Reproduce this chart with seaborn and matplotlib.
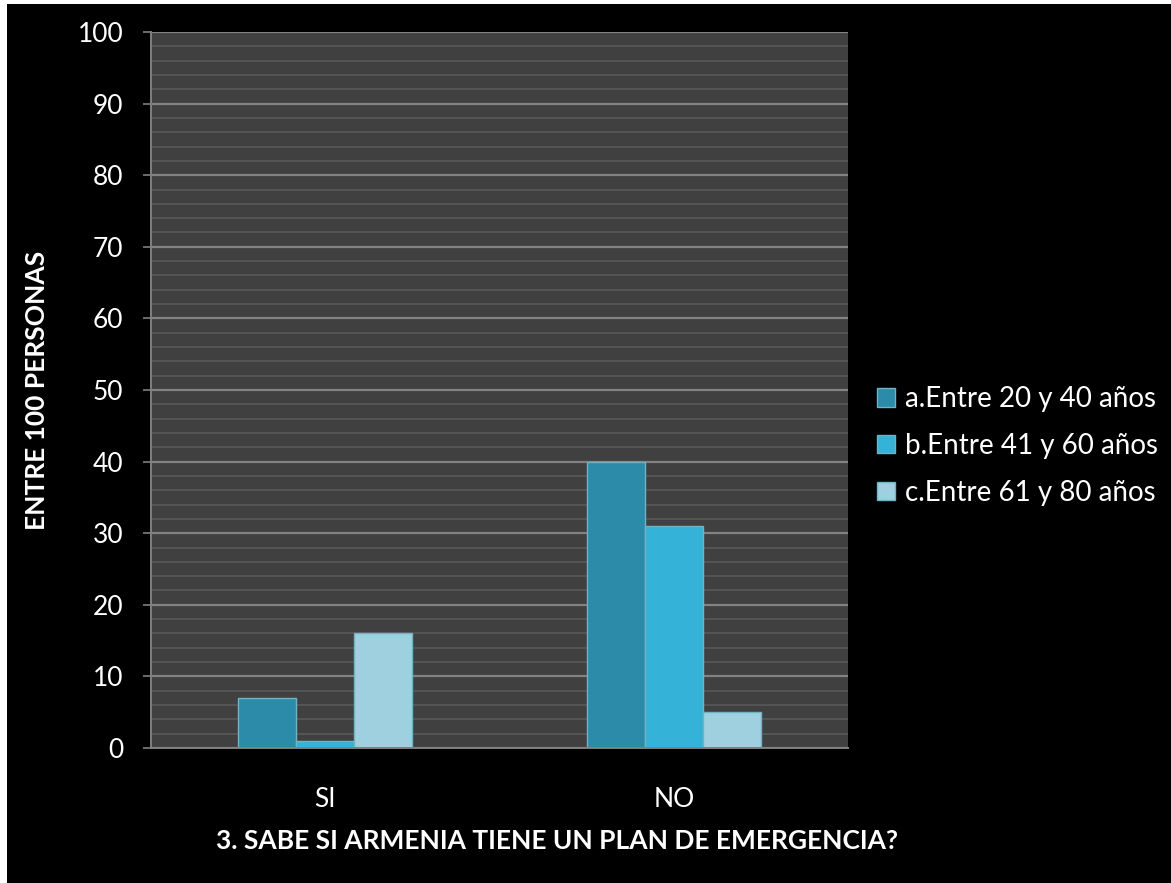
import pandas as pd
import numpy as np
import matplotlib.pyplot as plt
import matplotlib.patches as mpatches
from matplotlib.ticker import MultipleLocator
import seaborn as sns

# data
respuestas = ['SI', 'NO']
grupos = ['a.Entre 20 y 40 años', 'b.Entre 41 y 60 años', 'c.Entre 61 y 80 años']
valores_a = [7, 40]
valores_b = [1, 31]
valores_c = [16, 5]
colores = ['#2b8ba8', '#34b2d7', '#9fd0e0']

df = pd.DataFrame({
    'Respuesta': respuestas * 3,
    'Grupo': [g for g in grupos for _ in respuestas],
    'Valor': valores_a + valores_b + valores_c,
})

sns.set_style('dark')
plt.rcParams['font.family'] = ['Lato', 'DejaVu Sans']

W, H = 1171, 883
fig = plt.figure(figsize=(W / 100, H / 100), dpi=100, facecolor='white')
# black slide background, thin white strip on top and left
fig.patches.append(mpatches.Rectangle((7 / W, 0), 1, 1 - 4 / H, transform=fig.transFigure,
                                      facecolor='black', edgecolor='none', zorder=-10))

ax = fig.add_axes([151 / W, 1 - 748 / H, 697 / W, 716 / H])
ax.set_facecolor('#404040')

sns.barplot(data=df, x='Respuesta', y='Valor', hue='Grupo', order=respuestas,
            hue_order=grupos, palette=colores, width=0.5, ax=ax,
            edgecolor='#6fb3c6', linewidth=1.0, saturation=1)

ax.set_ylim(0, 100)
ax.yaxis.set_major_locator(MultipleLocator(10))
ax.yaxis.set_minor_locator(MultipleLocator(2))
ax.grid(False)
ax.yaxis.grid(True, which='minor', color='#555555', linewidth=1.4)
ax.yaxis.grid(True, which='major', color='#828282', linewidth=1.6)
ax.set_axisbelow(True)

ax.tick_params(axis='y', which='major', length=6, width=1.2, color='#808080',
               labelcolor='white', labelsize=19, pad=14, direction='out', left=True)
ax.tick_params(axis='y', which='minor', length=0)
ax.tick_params(axis='x', length=0, labelcolor='white', labelsize=19, pad=28)

for side in ['top', 'right']:
    ax.spines[side].set_visible(False)
for side in ['left', 'bottom']:
    ax.spines[side].set_visible(True)
    ax.spines[side].set_color('#808080')
    ax.spines[side].set_linewidth(1.4)

ax.set_xlabel('3. SABE SI ARMENIA TIENE UN PLAN DE EMERGENCIA?', color='white',
              fontsize=19, fontweight='bold')
ax.xaxis.set_label_coords(0.583, -0.113)
ax.set_ylabel('ENTRE 100 PERSONAS', color='white', fontsize=19, fontweight='bold')
ax.yaxis.set_label_coords(-0.147, 0.5)

leg = ax.legend(loc='center left', bbox_to_anchor=(1.042, 0.422), frameon=False,
                fontsize=20, handlelength=0.65, handleheight=0.65,
                handletextpad=0.36, labelspacing=0.75, borderpad=0, borderaxespad=0)
for t in leg.get_texts():
    t.set_color('white')

fig.savefig('out.png', dpi=100, facecolor=fig.get_facecolor())
